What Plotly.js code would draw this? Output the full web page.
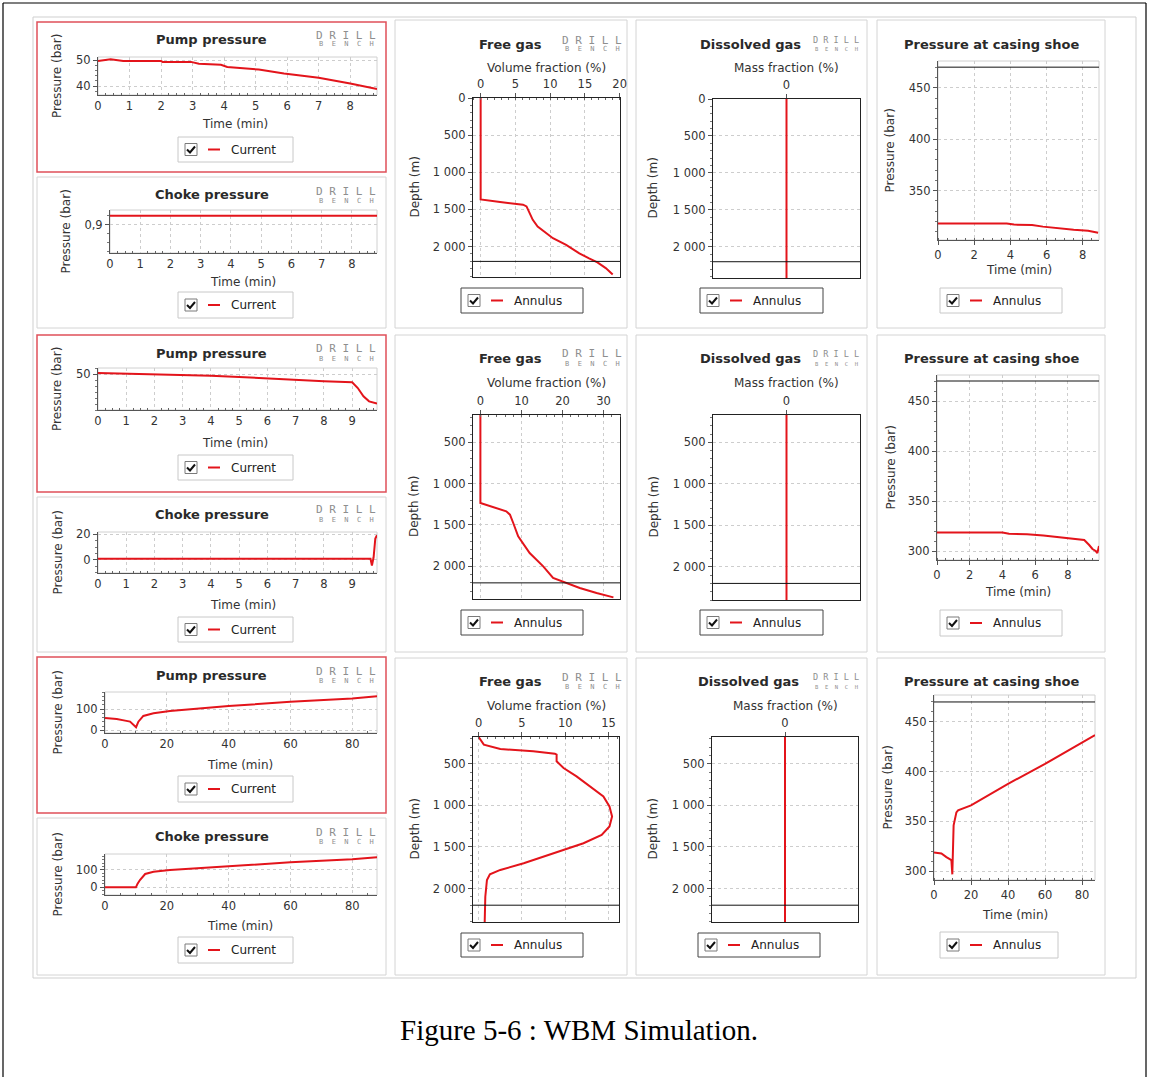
<!DOCTYPE html>
<html>
<head>
<meta charset="utf-8">
<script src="https://cdn.plot.ly/plotly-3.0.1.min.js"></script>
<style>
  html, body { margin: 0; padding: 0; background: #fff; }
  #fig { width: 1149px; height: 1077px; }
</style>
</head>
<body>
<div id="fig"></div>
<script>
// ---------------- Simulation results ----------------
// Scenario 1 (about 8.9 min simulated)
const pumpTime1 = [0, 0.4, 0.8, 2.0, 2.05, 2.95, 3.2, 3.9, 4.1, 5.1, 5.9, 7.0, 8.0, 8.85];
const pumpPres1 = [49.7, 50.4, 49.7, 49.7, 49.4, 49.4, 48.7, 48.3, 47.4, 46.4, 44.9, 43.2, 41.0, 38.8];
const chokeTime1 = [0, 8.85];
const chokePres1 = [0.92, 0.92];
const freeGasFrac1 = [0, 0, 2.8, 6.1, 6.6, 7.5, 8.2, 10.4, 12.3, 14.2, 15.6, 16.8, 18.0, 19.0];
const freeGasDepth1 = [0, 1365, 1400, 1436, 1459, 1640, 1730, 1888, 1978, 2091, 2160, 2213, 2290, 2376];
const shoeTime1 = [0, 3.8, 4.2, 5.2, 5.8, 6.8, 7.5, 8.3, 8.85];
const shoePres1 = [318, 318, 317, 316.5, 315, 313, 312, 311, 309];

// Scenario 2 (about 9.9 min simulated)
const pumpTime2 = [0, 2, 4, 5, 6, 7, 8, 9, 9.2, 9.4, 9.6, 9.88];
const pumpPres2 = [50.8, 50, 48.6, 47.5, 46.1, 45.3, 43.9, 43.1, 38.3, 31.4, 27.2, 25.3];
const chokeTime2 = [0, 9.65, 9.7, 9.76, 9.82, 9.88];
const chokePres2 = [0.9, 0.9, -4.4, 2, 16.7, 19.2];
const freeGasFrac2 = [0, 0, 6.3, 7.2, 8.0, 9.2, 12.0, 15.3, 17.7, 20.2, 24.2, 28.3, 32.4];
const freeGasDepth2 = [0, 1234, 1335, 1375, 1476, 1637, 1839, 2000, 2141, 2189, 2262, 2322, 2375];
const shoeTime2 = [0, 1.8, 2.0, 2.2, 4.0, 4.4, 5.5, 6.5, 7.5, 8.5, 9.0, 9.3, 9.5, 9.7, 9.8, 9.9];
const shoePres2 = [318.5, 318.5, 319.2, 318.5, 318.5, 317.2, 316.8, 315.5, 313.5, 312, 311, 306, 302, 300, 298, 305];

// Scenario 3 (about 88 min simulated)
const pumpTime3 = [0, 3.8, 6.5, 8.1, 10.05, 10.8, 12.4, 15.7, 21, 40, 60, 80, 88];
const pumpPres3 = [58, 54, 46, 41.5, 15, 41, 68, 80, 91, 114, 134, 149, 160];
const chokeTime3 = [0, 10, 10.5, 11.3, 13, 15.7, 21, 40, 60, 80, 88];
const chokePres3 = [0, 0, 20, 42, 77, 90, 100, 123, 144, 162, 173];
const freeGasFrac3 = [0, 0.6, 2.5, 6.3, 8.8, 9.0, 9.0, 9.8, 11.3, 12.8, 14.4, 15.1, 15.4, 15.1, 14.2, 12.1, 9.8, 7.5, 5.2, 2.5, 1.3, 0.96, 0.77, 0.7];
const freeGasDepth3 = [178, 270, 322, 350, 378, 390, 470, 551, 651, 772, 892, 1013, 1133, 1254, 1354, 1455, 1535, 1616, 1696, 1776, 1829, 1897, 2098, 2402];
const shoeTime3 = [0, 4, 6.7, 9.4, 9.9, 10.6, 12.1, 13, 20, 40, 60, 80, 87];
const shoePres3 = [318.7, 317.7, 314, 311, 296.7, 346, 359, 361, 366, 387.7, 407.7, 428.7, 436.7];

// Dissolved gas stays at zero along the whole annulus
const dissolvedFrac = [0, 0];
const dissolvedDepth = [0, 2420];

// Reference levels
const SHOE_DEPTH = 2200;          // casing shoe depth (m)
const FRACTURE_PRESSURE = 470;    // limit at the casing shoe (bar)

// ---------------- Page geometry helpers ----------------
const W = 1149, H = 1077;
const fx = x => x / W;
const fy = y => 1 - y / H;
const RED = '#e3141b';
const FONT = 'DejaVu Sans, Verdana, sans-serif';
const NB = '\u00a0';

const traces = [];
const shapes = [];
const annotations = [];
const layout = {
  width: W, height: H,
  margin: { l: 0, r: 0, t: 0, b: 0 },
  paper_bgcolor: '#fff', plot_bgcolor: '#fff',
  showlegend: false,
  separators: ', ',
  hovermode: false,
  font: { family: FONT, size: 11, color: '#333' },
  shapes, annotations
};

let axisCount = 0;

function baseAxis() {
  return {
    showgrid: true, gridcolor: '#cdcdcd', griddash: '3px,3px', gridwidth: 1,
    zeroline: false, showline: true, linecolor: '#555', linewidth: 1,
    ticks: 'outside', ticklen: 4, tickwidth: 1, tickcolor: '#555',
    tickfont: { family: FONT, size: 11.5, color: '#333' },
    fixedrange: true, tick0: 0, automargin: false
  };
}

function newAxes(plot, xcfg, ycfg) {
  axisCount += 1;
  const i = axisCount;
  const xa = i === 1 ? 'xaxis' : 'xaxis' + i;
  const ya = i === 1 ? 'yaxis' : 'yaxis' + i;
  const xr = i === 1 ? 'x' : 'x' + i;
  const yr = i === 1 ? 'y' : 'y' + i;
  const [l, t, r, b] = plot;
  layout[xa] = Object.assign(baseAxis(), { domain: [fx(l), fx(r)], anchor: yr }, xcfg);
  layout[ya] = Object.assign(baseAxis(), { domain: [fy(b), fy(t)], anchor: xr }, ycfg);
  return [xr, yr];
}

function line(x, y, xr, yr, color, width) {
  traces.push({
    type: 'scatter', mode: 'lines', x, y, xaxis: xr, yaxis: yr,
    line: { color: color || RED, width: width || 2 },
    hoverinfo: 'skip', showlegend: false, cliponaxis: true
  });
}

function rectPx(box, color, width, fill, layer) {
  const [x0, y0, x1, y1] = box;
  shapes.push({
    type: 'rect', xref: 'paper', yref: 'paper',
    x0: fx(x0), x1: fx(x1), y0: fy(y1), y1: fy(y0),
    line: { color, width }, fillcolor: fill || 'rgba(0,0,0,0)', layer: layer || 'below'
  });
}

function text(x, y, str, opts) {
  annotations.push(Object.assign({
    xref: 'paper', yref: 'paper', x: fx(x), y: fy(y), text: str, showarrow: false,
    xanchor: 'center', yanchor: 'middle',
    font: { family: FONT, size: 12, color: '#333' }
  }, opts || {}));
}

function title(x, y, str) {
  text(x, y, '<b>' + str + '</b>', { font: { family: FONT, size: 13, color: '#2a2a2a' } });
}

function yTitle(x, y, str) {
  text(x, y, str, { textangle: -90 });
}

function spaced(word, gap) {
  return word.split('').join(gap);
}

function logo(cx, cy, small) {
  const s = small ? 8.5 : 11;
  text(cx, cy - 4, spaced('DRILL', NB), { font: { family: 'DejaVu Sans Mono, monospace', size: s, color: '#8e8e8e' } });
  text(cx, cy + 5.5, spaced('BENCH', NB + NB), { font: { family: 'DejaVu Sans Mono, monospace', size: small ? 5.5 : 7, color: '#8e8e8e' } });
}

function legendBox(box, label, border) {
  const [x0, y0, x1, y1] = box;
  const yc = (y0 + y1) / 2;
  rectPx(box, border, 1, '#fff', 'above');
  rectPx([x0 + 7, yc - 6, x0 + 19, yc + 6], '#7a7a7a', 1, '#fff', 'above');
  shapes.push({
    type: 'path', xref: 'paper', yref: 'paper', layer: 'above',
    path: `M ${fx(x0 + 9)} ${fy(yc)} L ${fx(x0 + 12)} ${fy(yc + 3)} L ${fx(x0 + 17)} ${fy(yc - 3)}`,
    line: { color: '#111', width: 2 }
  });
  shapes.push({
    type: 'line', xref: 'paper', yref: 'paper', layer: 'above',
    x0: fx(x0 + 30), x1: fx(x0 + 42), y0: fy(yc), y1: fy(yc),
    line: { color: RED, width: 2 }
  });
  text(x0 + 51, yc, label, { xanchor: 'left', font: { family: FONT, size: 12, color: '#222' } });
}

function hRef(xr, yr, value, color) {
  shapes.push({
    type: 'line', xref: xr + ' domain', yref: yr, x0: 0, x1: 1, y0: value, y1: value,
    line: { color: color || '#111', width: 1 }, layer: 'above'
  });
}

// ---------------- Panel builders ----------------
function pumpPanel(g, t, p, xcfg, ycfg, label) {
  rectPx(g.box, g.border, g.border === '#d4d4d4' ? 1 : 1.5);
  rectPx(g.plot, '#d0d0d0', 1);
  const [xr, yr] = newAxes(g.plot, xcfg, ycfg);
  line(t, p, xr, yr);
  title(g.titleX, g.titleY, label);
  logo(346, g.titleY, false);
  text(g.xtX, g.xtY, 'Time (min)');
  yTitle(g.ytX, (g.plot[1] + g.plot[3]) / 2, 'Pressure (bar)');
  legendBox(g.legend, 'Current', '#c8c8c8');
}

function depthPanel(g, frac, depth, xcfg, ycfg, label, xlabel, dissolved) {
  rectPx(g.box, '#d4d4d4', 1);
  const xc = Object.assign({ side: 'top', mirror: true, linecolor: '#222' }, xcfg);
  const yc = Object.assign({ mirror: true, linecolor: '#222', separatethousands: true,
    dtick: 500, minor: { ticks: 'outside', ticklen: 2, tickcolor: '#777', dtick: 100, showgrid: false } }, ycfg);
  const [xr, yr] = newAxes(g.plot, xc, yc);
  line(frac, depth, xr, yr);
  hRef(xr, yr, SHOE_DEPTH);
  title(g.titleX, g.titleY, label);
  logo(g.logoX, g.titleY, dissolved);
  text((g.plot[0] + g.plot[2]) / 2, g.xtY, xlabel);
  yTitle(g.ytX, (g.plot[1] + g.plot[3]) / 2, 'Depth (m)');
  legendBox(g.legend, 'Annulus', '#444');
}

function shoePanel(g, t, p, xcfg, ycfg) {
  rectPx(g.box, '#d4d4d4', 1);
  rectPx(g.plot, '#d0d0d0', 1);
  const yc = Object.assign({ dtick: 50, minor: { ticks: 'outside', ticklen: 2, tickcolor: '#777', dtick: 10, showgrid: false } }, ycfg);
  const [xr, yr] = newAxes(g.plot, xcfg, yc);
  line(t, p, xr, yr);
  hRef(xr, yr, FRACTURE_PRESSURE);
  title(991, g.titleY, 'Pressure at casing shoe');
  text((g.plot[0] + g.plot[2]) / 2, g.xtY, 'Time (min)');
  yTitle(g.ytX, (g.plot[1] + g.plot[3]) / 2, 'Pressure (bar)');
  legendBox(g.legend, 'Annulus', '#c8c8c8');
}

const minorX = d => ({ ticks: 'inside', ticklen: 2, tickcolor: '#666', dtick: d, showgrid: false });
const minorY = d => ({ ticks: 'outside', ticklen: 2, tickcolor: '#777', dtick: d, showgrid: false });

// ---------------- Frames ----------------
// page border
shapes.push({ type: 'line', xref: 'paper', yref: 'paper', x0: fx(3), x1: fx(1146), y0: fy(3), y1: fy(3), line: { color: '#000', width: 1.2 } });
shapes.push({ type: 'line', xref: 'paper', yref: 'paper', x0: fx(3), x1: fx(3), y0: fy(3), y1: fy(1077), line: { color: '#000', width: 1.2 } });
shapes.push({ type: 'line', xref: 'paper', yref: 'paper', x0: fx(1146), x1: fx(1146), y0: fy(3), y1: fy(1077), line: { color: '#000', width: 1.2 } });
// dashboard frame
rectPx([33, 17, 1136, 978], '#cfcfcf', 1);

// ---------------- Row 1 ----------------
pumpPanel({ box: [37, 22, 386, 172], border: '#e0505a', plot: [98, 57, 377, 95], titleX: 212, titleY: 39,
  xtX: 235, xtY: 124, ytX: 57, legend: [178, 137, 293, 162] },
  pumpTime1, pumpPres1,
  { range: [0, 8.85], dtick: 1, ticks: '', minor: minorX(0.25) },
  { range: [36.5, 51.3], dtick: 10, minor: minorY(2) }, 'Pump pressure');
pumpPanel({ box: [37, 177, 386, 328], border: '#d4d4d4', plot: [110, 210, 377, 253], titleX: 212, titleY: 195,
  xtX: 243, xtY: 282, ytX: 66, legend: [178, 292, 293, 318] },
  chokeTime1, chokePres1,
  { range: [0, 8.83], dtick: 1, ticks: '', minor: minorX(0.25) },
  { range: [0.837, 0.933], dtick: 0.1, minor: minorY(0.02) }, 'Choke pressure');
depthPanel({ box: [395, 20, 627, 328], plot: [473, 98, 620, 277], titleX: 510, titleY: 44, logoX: 592,
  xtY: 68, ytX: 414, legend: [461, 288, 583, 313] },
  freeGasFrac1, freeGasDepth1,
  { range: [-1.1, 20.05], dtick: 5, minor: minorX(1) },
  { range: [2410, 0] }, 'Free gas', 'Volume fraction (%)', false);
depthPanel({ box: [636, 20, 867, 328], plot: [713, 99, 860, 278], titleX: 750, titleY: 44, logoX: 836,
  xtY: 68, ytX: 653, legend: [700, 288, 823, 313] },
  dissolvedFrac, dissolvedDepth,
  { range: [-1, 1], tickvals: [0], showgrid: false },
  { range: [2420, 0] }, 'Dissolved gas', 'Mass fraction (%)', true);
shoePanel({ box: [877, 20, 1105, 328], plot: [938, 61, 1099, 240], titleY: 44, xtY: 270, ytX: 890,
  legend: [940, 288, 1062, 313] },
  shoeTime1, shoePres1,
  { range: [0, 8.9], dtick: 2, minor: minorX(0.5) },
  { range: [302, 476] });

// ---------------- Row 2 ----------------
pumpPanel({ box: [37, 335, 386, 492], border: '#e0505a', plot: [98, 368, 377, 410], titleX: 212, titleY: 353,
  xtX: 235, xtY: 443, ytX: 57, legend: [178, 455, 293, 480] },
  pumpTime2, pumpPres2,
  { range: [0, 9.88], dtick: 1, ticks: '', minor: minorX(0.25) },
  { range: [20, 55], dtick: 50, minor: minorY(5) }, 'Pump pressure');
pumpPanel({ box: [37, 497, 386, 652], border: '#d4d4d4', plot: [98, 532, 377, 573], titleX: 212, titleY: 514,
  xtX: 243, xtY: 605, ytX: 57, legend: [178, 617, 293, 642] },
  chokeTime2, chokePres2,
  { range: [0, 9.88], dtick: 1, ticks: '', minor: minorX(0.25) },
  { range: [-10.3, 21.8], dtick: 20, minor: minorY(5) }, 'Choke pressure');
depthPanel({ box: [395, 335, 627, 652], plot: [473, 415, 620, 599], titleX: 510, titleY: 358, logoX: 592,
  xtY: 383, ytX: 414, legend: [461, 610, 583, 635] },
  freeGasFrac2, freeGasDepth2,
  { range: [-1.8, 34], dtick: 10, minor: minorX(2) },
  { range: [2395, 170] }, 'Free gas', 'Volume fraction (%)', false);
depthPanel({ box: [636, 335, 867, 652], plot: [713, 415, 860, 600], titleX: 750, titleY: 358, logoX: 836,
  xtY: 383, ytX: 653, legend: [700, 610, 823, 635] },
  dissolvedFrac, dissolvedDepth,
  { range: [-1, 1], tickvals: [0], showgrid: false },
  { range: [2400, 170] }, 'Dissolved gas', 'Mass fraction (%)', true);
shoePanel({ box: [877, 335, 1105, 652], plot: [937, 375, 1099, 560], titleY: 358, xtY: 592, ytX: 890,
  legend: [940, 610, 1062, 636] },
  shoeTime2, shoePres2,
  { range: [0, 9.9], dtick: 2, minor: minorX(0.5) },
  { range: [291, 476] });

// ---------------- Row 3 ----------------
pumpPanel({ box: [37, 657, 386, 813], border: '#e0505a', plot: [105, 692, 377, 733], titleX: 212, titleY: 675,
  xtX: 240, xtY: 765, ytX: 57, legend: [178, 776, 293, 802] },
  pumpTime3, pumpPres3,
  { range: [0, 88], dtick: 20, ticks: '', minor: minorX(5) },
  { range: [-12, 180], dtick: 100, minor: minorY(20) }, 'Pump pressure');
pumpPanel({ box: [37, 818, 386, 975], border: '#d4d4d4', plot: [105, 854, 377, 895], titleX: 212, titleY: 836,
  xtX: 240, xtY: 926, ytX: 57, legend: [178, 937, 293, 963] },
  chokeTime3, chokePres3,
  { range: [0, 88], dtick: 20, ticks: '', minor: minorX(5) },
  { range: [-44, 192], dtick: 100, minor: minorY(20) }, 'Choke pressure');
depthPanel({ box: [395, 658, 627, 975], plot: [473, 737, 619, 922], titleX: 510, titleY: 681, logoX: 592,
  xtY: 706, ytX: 414, legend: [461, 933, 583, 957] },
  freeGasFrac3, freeGasDepth3,
  { range: [-0.65, 16.2], dtick: 5, minor: minorX(1) },
  { range: [2402, 178] }, 'Free gas', 'Volume fraction (%)', false);
depthPanel({ box: [636, 658, 867, 975], plot: [712, 737, 858, 922], titleX: 748, titleY: 681, logoX: 836,
  xtY: 706, ytX: 652, legend: [698, 933, 820, 957] },
  dissolvedFrac, dissolvedDepth,
  { range: [-1, 1], tickvals: [0], showgrid: false },
  { range: [2402, 178] }, 'Dissolved gas', 'Mass fraction (%)', true);
shoePanel({ box: [877, 658, 1105, 975], plot: [934, 695, 1095, 880], titleY: 681, xtY: 915, ytX: 887,
  legend: [940, 932, 1058, 958] },
  shoeTime3, shoePres3,
  { range: [0, 87], dtick: 20, minor: minorX(5) },
  { range: [291, 477] });

// ---------------- Caption ----------------
text(579, 1030, 'Figure 5-6 : WBM Simulation.', {
  font: { family: 'Liberation Serif, Times New Roman, serif', size: 29, color: '#000' }
});

Plotly.newPlot('fig', traces, layout, { displayModeBar: false, staticPlot: true });
</script>
</body>
</html>
